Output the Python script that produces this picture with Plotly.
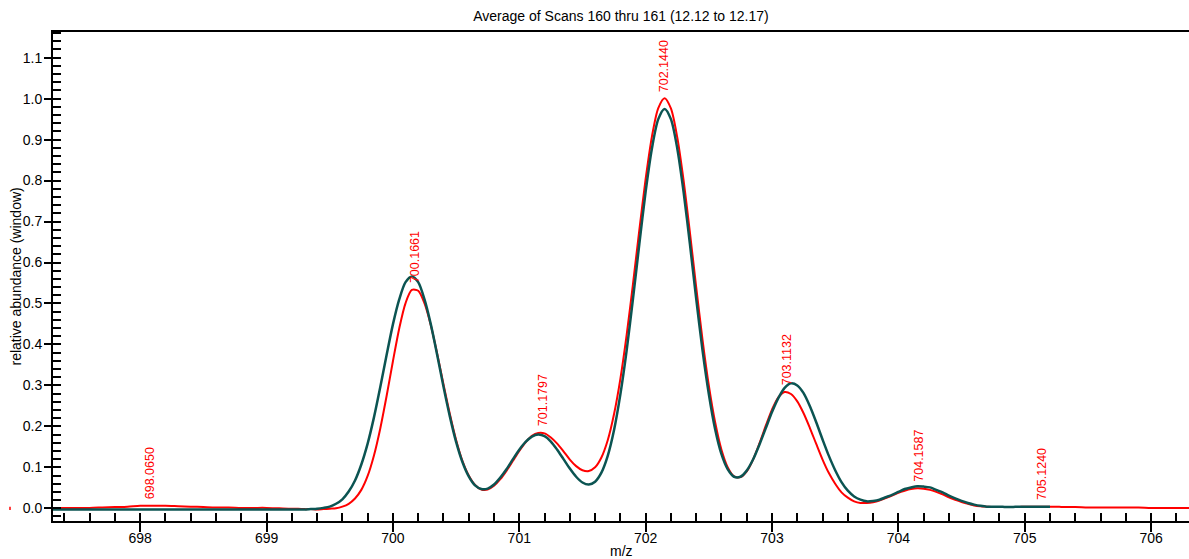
import numpy as np
import plotly.graph_objects as go

# ---------------- data ----------------
# m/z sampling grid: 0.1 steps in the flat regions, 0.05 steps across the isotope cluster
mz_left = np.round(np.arange(697.3, 699.2001, 0.1), 2)
mz_mid = np.round(np.arange(699.25, 705.2501, 0.05), 2)
mz_right = np.round(np.arange(705.3, 706.3001, 0.1), 2)
mz_red = np.concatenate([mz_left, mz_mid, mz_right])
mz_teal = mz_red[:140]          # teal trace stops at ~705.2

red_abundance = [
    0.001, 0.001, 0.001, 0.001, 0.002, 0.003, 0.004, 0.006, 0.006, 0.006, 0.005, 0.004,
    0.003, 0.002, 0.002, 0.001, 0.001, 0.001, 0.000, -0.001,
    -0.001, -0.002, -0.002, -0.003, -0.002, -0.001, 0.000, 0.004, 0.011, 0.024,
    0.045, 0.079, 0.129, 0.195, 0.274, 0.359, 0.439, 0.501, 0.533, 0.531,
    0.500, 0.447, 0.378, 0.303, 0.231, 0.167, 0.116, 0.080, 0.057, 0.046,
    0.046, 0.055, 0.071, 0.092, 0.116, 0.140, 0.161, 0.177, 0.184, 0.183,
    0.173, 0.158, 0.139, 0.119, 0.103, 0.093, 0.091, 0.100, 0.124, 0.166,
    0.230, 0.316, 0.424, 0.548, 0.679, 0.804, 0.908, 0.977, 1.001, 0.976,
    0.906, 0.801, 0.674, 0.540, 0.412, 0.300, 0.210, 0.143, 0.100, 0.078,
    0.076, 0.090, 0.119, 0.158, 0.201, 0.241, 0.271, 0.284, 0.279, 0.261,
    0.232, 0.196, 0.157, 0.119, 0.086, 0.060, 0.039, 0.026, 0.017, 0.013,
    0.013, 0.015, 0.019, 0.025, 0.031, 0.038, 0.043, 0.047, 0.049, 0.048,
    0.045, 0.040, 0.034, 0.027, 0.021, 0.015, 0.011, 0.007, 0.005, 0.004,
    0.003, 0.003, 0.003, 0.003, 0.003, 0.004, 0.004, 0.004, 0.004, 0.004,
    0.004, 0.003, 0.003, 0.002, 0.002, 0.002, 0.002, 0.002, 0.001, 0.001,
    0.001, 0.001,
]

teal_abundance = [
    -0.003, -0.003, -0.003, -0.003, -0.003, -0.003, -0.003, -0.003, -0.003, -0.003,
    -0.003, -0.003, -0.003, -0.003, -0.003, -0.003, -0.003, -0.003, -0.003, -0.003,
    -0.003, -0.003, -0.002, -0.001, 0.001, 0.004, 0.011, 0.022, 0.041, 0.068,
    0.107, 0.158, 0.222, 0.296, 0.374, 0.449, 0.510, 0.552, 0.566, 0.552,
    0.510, 0.449, 0.375, 0.297, 0.225,
    0.162, 0.113, 0.078, 0.056, 0.047, 0.048, 0.058, 0.075, 0.096, 0.120,
    0.143, 0.162, 0.175, 0.180, 0.176, 0.163, 0.143, 0.120, 0.097, 0.077,
    0.063, 0.058, 0.065, 0.087, 0.128, 0.191, 0.278, 0.386, 0.512, 0.645,
    0.773, 0.879, 0.950, 0.975, 0.950, 0.879, 0.773, 0.646, 0.512, 0.386,
    0.279, 0.193, 0.132, 0.095, 0.077, 0.077, 0.092, 0.119, 0.155, 0.195,
    0.235, 0.269, 0.294, 0.305, 0.300, 0.281, 0.249, 0.210, 0.168, 0.128,
    0.093, 0.064, 0.043, 0.029, 0.021, 0.017, 0.018, 0.021, 0.027, 0.033,
    0.040, 0.047, 0.051, 0.054, 0.053, 0.051, 0.045, 0.039, 0.031, 0.024,
    0.018, 0.013, 0.009, 0.006, 0.004, 0.004, 0.004, 0.003, 0.003, 0.004,
    0.004, 0.004, 0.004, 0.004, 0.004,
]

peak_labels = ["698.0650", "700.1661", "701.1797", "702.1440", "703.1132", "704.1587", "705.1240"]
peak_mz = [698.0650, 700.1661, 701.1797, 702.1440, 703.1132, 704.1587, 705.1240]

title_text = "Average of Scans 160 thru 161 (12.12 to 12.17)"
x_title = "m/z"
y_title = "relative abundance (window)"

X_RANGE = [697.31, 706.30]
Y_RANGE = [-0.031, 1.1627]

# ---------------- figure ----------------
FONT = "Liberation Sans, Arial, Helvetica, sans-serif"
RED = "#ff0000"
TEAL = "#0b5452"
W, H = 1189, 559
ML, MR, MT, MB = 53, 0, 32, 38
PW, PH = W - ML - MR, H - MT - MB

fig = go.Figure()
fig.add_trace(go.Scatter(x=mz_red, y=red_abundance, mode="lines",
                         line=dict(color=RED, width=2, shape="spline", smoothing=0.8),
                         hoverinfo="skip"))
fig.add_trace(go.Scatter(x=mz_teal, y=teal_abundance, mode="lines",
                         line=dict(color=TEAL, width=2.5, shape="spline", smoothing=0.8),
                         hoverinfo="skip"))
# invisible trace to activate the overlaid minor-tick axes
fig.add_trace(go.Scatter(x=[], y=[], xaxis="x2", yaxis="y2", hoverinfo="skip"))

label_y = np.interp(peak_mz, mz_red, red_abundance)
for txt, xm, ym in zip(peak_labels, peak_mz, label_y):
    fig.add_annotation(x=xm, y=ym, text=txt, textangle=-90, showarrow=False,
                       xanchor="center", yanchor="bottom", yshift=5, xshift=1,
                       font=dict(family=FONT, size=12.5, color=RED))

# axis titles as paper annotations (exact placement)
fig.add_annotation(xref="paper", yref="paper", x=0.5, y=-(551 - (H - MB)) / PH,
                   text=x_title, showarrow=False, xanchor="center", yanchor="middle",
                   font=dict(family=FONT, size=14, color="black"))
fig.add_annotation(xref="paper", yref="paper", x=(15 - ML) / PW, y=0.5,
                   text=y_title, textangle=-90, showarrow=False,
                   xanchor="center", yanchor="middle",
                   font=dict(family=FONT, size=14, color="black"))

# small zero marker left of the axis
fig.add_shape(type="line", xref="paper", yref="y", x0=(10 - ML) / PW, x1=(10 - ML) / PW,
              y0=-0.004, y1=0.004, line=dict(color=RED, width=1.5))

axis_font = dict(family=FONT, size=14, color="black")
fig.update_layout(
    width=W, height=H,
    margin=dict(l=ML, r=MR, t=MT, b=MB, autoexpand=False),
    paper_bgcolor="white", plot_bgcolor="white",
    showlegend=False,
    font=dict(family=FONT, size=14, color="black"),
    title=dict(text=title_text, x=0.5, xref="paper", xanchor="center",
               y=1 - 16 / H, yref="container", yanchor="middle", automargin=False,
               font=dict(family=FONT, size=14, color="black")),
    xaxis=dict(range=X_RANGE, showgrid=False, zeroline=False, automargin=False,
               showline=True, linecolor="black", linewidth=2, mirror=True,
               ticks="outside", ticklen=9, tickwidth=2, tickcolor="black",
               tick0=698, dtick=1, tickfont=axis_font, ticklabelstandoff=-6),
    xaxis2=dict(range=X_RANGE, overlaying="x", anchor="y", side="bottom", automargin=False,
                showgrid=False, zeroline=False, showline=False,
                ticks="inside", ticklen=8, tickwidth=2, tickcolor="black",
                tick0=698, dtick=0.2, showticklabels=False),
    yaxis=dict(range=Y_RANGE, showgrid=False, zeroline=False, automargin=False,
               showline=True, linecolor="black", linewidth=2,
               ticks="outside", ticklen=7, tickwidth=2, tickcolor="black",
               tick0=0, dtick=0.1, tickformat=".1f", tickfont=axis_font,
               ticklabelstandoff=-1),
    yaxis2=dict(range=Y_RANGE, overlaying="y", anchor="x", side="left", automargin=False,
                showgrid=False, zeroline=False, showline=False,
                ticks="inside", ticklen=8, tickwidth=2, tickcolor="black",
                tick0=0, dtick=0.02, showticklabels=False),
)

fig.write_html("out.html", config={"displayModeBar": False},
               post_script="document.body.style.margin='0';document.body.style.padding='0';")
